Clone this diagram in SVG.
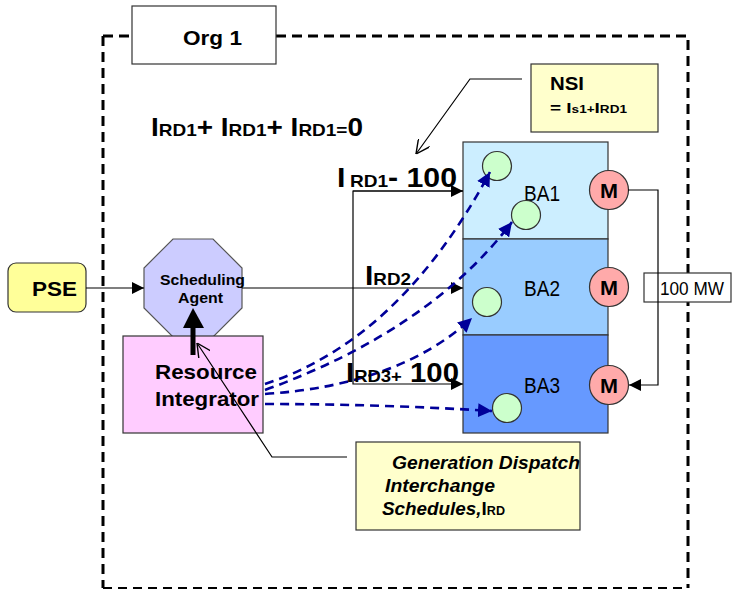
<svg xmlns="http://www.w3.org/2000/svg" width="732" height="590" viewBox="0 0 732 590">
<defs>
<style>
text{font-family:"Liberation Sans",Arial,sans-serif;fill:#000}
.b{font-weight:bold}
.frame{fill:none;stroke:#000;stroke-width:3;stroke-dasharray:10,6}
.box{stroke:#333;stroke-width:1.2}
.ln{fill:none;stroke:#000;stroke-width:1.2}
.bd{fill:none;stroke:#000099;stroke-width:2.6;stroke-dasharray:9,6}
.m{fill:#FFAAAA;stroke:#333;stroke-width:1.2}
.g{fill:#CCFFCC;stroke:#333;stroke-width:1.2}
.ba{font-size:22px}
.mt{font-size:21px;font-weight:bold}
</style>
<marker id="ah" viewBox="0 0 10 10" refX="10" refY="5" markerWidth="12" markerHeight="12" markerUnits="userSpaceOnUse" orient="auto"><path d="M0,0 L10,5 L0,10 z" fill="#000"/></marker>
<marker id="ab" viewBox="0 0 10 10" refX="10" refY="5" markerWidth="14" markerHeight="14" markerUnits="userSpaceOnUse" orient="auto"><path d="M0,0 L10,5 L0,10 z" fill="#000099"/></marker>
<marker id="ao" viewBox="0 0 10 10" refX="10" refY="5" markerWidth="14" markerHeight="14" markerUnits="userSpaceOnUse" orient="auto"><path d="M0,0 L10,5 L0,10" fill="none" stroke="#000" stroke-width="1"/></marker>
</defs>

<g id="frame">
<path class="frame" d="M103,36 H132 M276,36 H688 V588"/>
<path class="frame" d="M103,36 V588"/>
<path d="M103,588 H688" fill="none" stroke="#000" stroke-width="2" stroke-dasharray="9,6"/>
</g>

<g id="org1">
<rect x="132" y="6" width="144" height="58" fill="#fff" class="box"/>
<text x="183" y="45" class="b" font-size="20" textLength="59" lengthAdjust="spacingAndGlyphs">Org 1</text>
</g>

<g id="equation">
<text x="151" y="136" class="b" textLength="212" lengthAdjust="spacingAndGlyphs"><tspan font-size="25">I</tspan><tspan font-size="17">RD1</tspan><tspan font-size="25">+ I</tspan><tspan font-size="17">RD1</tspan><tspan font-size="25">+ I</tspan><tspan font-size="17">RD1=</tspan><tspan font-size="25">0</tspan></text>
</g>

<g id="nsi">
<rect x="531" y="64" width="127" height="68" fill="#FFFFCC" class="box"/>
<text x="550" y="90" class="b" font-size="18" textLength="34" lengthAdjust="spacingAndGlyphs">NSI</text>
<text x="550" y="113" class="b" textLength="77" lengthAdjust="spacingAndGlyphs"><tspan font-size="14">= I</tspan><tspan font-size="10">s1+</tspan><tspan font-size="14">I</tspan><tspan font-size="10">RD1</tspan></text>
</g>

<g id="ba1">
<rect x="463" y="142" width="145" height="97" fill="#CCEEFF" class="box"/>
<text x="524" y="201" class="ba" textLength="36" lengthAdjust="spacingAndGlyphs">BA1</text>
<circle cx="497" cy="166" r="14.5" class="g"/>
<circle cx="526" cy="215" r="14.5" class="g"/>
<circle cx="609" cy="190" r="19.5" class="m"/>
<text x="600" y="198" class="mt" textLength="18" lengthAdjust="spacingAndGlyphs">M</text>
</g>

<g id="ba2">
<rect x="463" y="239" width="145" height="96" fill="#99CCFF" class="box"/>
<text x="524" y="296" class="ba" textLength="36" lengthAdjust="spacingAndGlyphs">BA2</text>
<circle cx="487" cy="302" r="14.5" class="g"/>
<circle cx="609" cy="287" r="19.5" class="m"/>
<text x="600" y="295" class="mt" textLength="18" lengthAdjust="spacingAndGlyphs">M</text>
</g>

<g id="ba3">
<rect x="463" y="335" width="145" height="98" fill="#6699FF" class="box"/>
<text x="524" y="393" class="ba" textLength="36" lengthAdjust="spacingAndGlyphs">BA3</text>
<circle cx="507" cy="408" r="14.5" class="g"/>
<circle cx="609" cy="385" r="19.5" class="m"/>
<text x="600" y="393" class="mt" textLength="18" lengthAdjust="spacingAndGlyphs">M</text>
</g>

<g id="pse">
<rect x="8" y="263" width="78" height="49" rx="8" fill="#FFFF99" class="box"/>
<text x="32" y="296" class="b" font-size="21" textLength="45" lengthAdjust="spacingAndGlyphs">PSE</text>
</g>

<g id="scheduling-agent">
<polygon points="173,239 213,239 242,268 242,308 213,337 173,337 144,308 144,268" fill="#CCCCFF" stroke="#555" stroke-width="1.2"/>
<text x="160" y="285" class="b" font-size="15" textLength="85" lengthAdjust="spacingAndGlyphs">Scheduling</text>
<text x="178" y="303" class="b" font-size="15" textLength="45" lengthAdjust="spacingAndGlyphs">Agent</text>
</g>

<g id="resource-integrator">
<rect x="123" y="336" width="140" height="97" fill="#FFCCFF" class="box"/>
<text x="155" y="379" class="b" font-size="21" textLength="102" lengthAdjust="spacingAndGlyphs">Resource</text>
<text x="155" y="406" class="b" font-size="21" textLength="104" lengthAdjust="spacingAndGlyphs">Integrator</text>
</g>

<g id="gen-dispatch">
<rect x="356" y="442" width="224" height="88" fill="#FFFFCC" class="box"/>
<text x="392" y="469" class="b" font-size="18" font-style="italic" textLength="188" lengthAdjust="spacingAndGlyphs">Generation Dispatch</text>
<text x="385" y="492" class="b" font-size="18" font-style="italic" textLength="110" lengthAdjust="spacingAndGlyphs">Interchange</text>
<text x="382" y="515" class="b" textLength="123" lengthAdjust="spacingAndGlyphs"><tspan font-size="18" font-style="italic">Schedules,</tspan><tspan font-size="18">I</tspan><tspan font-size="12">RD</tspan></text>
</g>

<g id="mw100">
<rect x="644" y="273" width="87" height="29" fill="#fff" class="box"/>
<text x="660" y="295" font-size="18" textLength="64" lengthAdjust="spacingAndGlyphs">100 MW</text>
</g>

<g id="connectors">
<line x1="86" y1="288" x2="144" y2="288" class="ln" marker-end="url(#ah)"/>
<line x1="242" y1="288" x2="463" y2="288" class="ln" marker-end="url(#ah)"/>
<polyline points="463,191 353,191 353,384 463,384" class="ln" marker-end="url(#ah)"/>
<line x1="353" y1="191" x2="463" y2="191" class="ln" marker-end="url(#ah)"/>
<polyline points="628,190 658,190 658,385 629,385" class="ln" marker-end="url(#ah)"/>
<line x1="193" y1="355" x2="193" y2="326" stroke="#000" stroke-width="5"/>
<path d="M183,328 L193,308 L204,328 z" fill="#000"/>
<polyline points="522,79 470,79 416,154" class="ln" marker-end="url(#ao)"/>
<polyline points="347,457 272,457 197,343" class="ln" marker-end="url(#ao)"/>
<path d="M265,384 Q400,340 490,172" class="bd" marker-end="url(#ab)"/>
<path d="M265,390 Q430,330 512,222" class="bd" marker-end="url(#ab)"/>
<path d="M265,394 Q400,385 472,318" class="bd" marker-end="url(#ab)"/>
<path d="M265,404 Q380,404 492,411" class="bd" marker-end="url(#ab)"/>
</g>

<g id="labels">
<text x="337" y="187" class="b" textLength="120" lengthAdjust="spacingAndGlyphs"><tspan font-size="27">I</tspan><tspan font-size="17" dx="4">RD1</tspan><tspan font-size="27">-  100</tspan></text>
<text x="365" y="285" class="b" textLength="46" lengthAdjust="spacingAndGlyphs"><tspan font-size="27">I</tspan><tspan font-size="17">RD2</tspan></text>
<text x="346" y="382" class="b" textLength="113" lengthAdjust="spacingAndGlyphs"><tspan font-size="27">I</tspan><tspan font-size="17">RD3+</tspan><tspan font-size="27"> 100</tspan></text>
</g>
</svg>
